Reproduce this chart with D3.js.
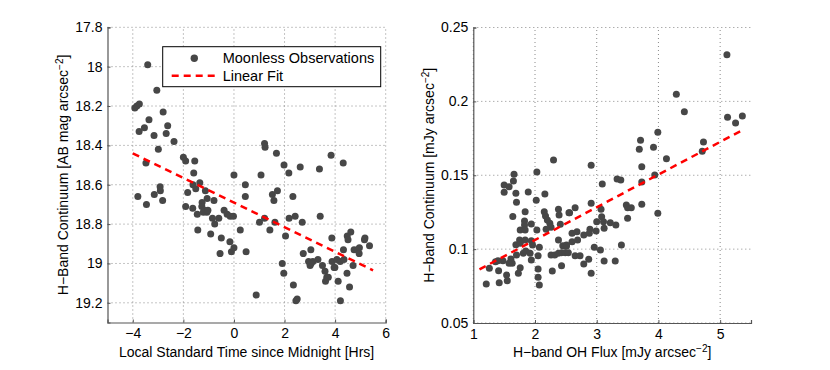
<!DOCTYPE html>
<html>
<head>
<meta charset="utf-8">
<script src="https://cdn.jsdelivr.net/npm/d3@7"></script>
<style>
  body { margin: 0; background: #fff; }
  svg { font-family: "Liberation Sans", Arial, sans-serif; }
</style>
</head>
<body>
<svg id="chart" width="830" height="370"></svg>
<script>
// Left panel: [local time (hrs), H-band continuum (AB mag/arcsec^2)]
const timeMag = [
  [-3.41, 17.99], [-3.05, 18.12], [-3.92, 18.21], [-3.84, 18.20], [-3.74, 18.19],
  [-2.80, 18.23], [-3.36, 18.27], [-3.54, 18.31], [-3.75, 18.33], [-2.62, 18.30],
  [-3.16, 18.35], [-2.68, 18.34], [-2.37, 18.38], [-2.99, 18.42], [-2.00, 18.46],
  [-1.91, 18.48], [-1.55, 18.48], [-3.48, 18.49], [-1.59, 18.54], [0.00, 18.55],
  [-3.80, 18.66], [-3.46, 18.70], [-3.15, 18.65], [-2.92, 18.61], [-2.91, 18.63],
  [-2.82, 18.68], [-1.91, 18.71], [-1.83, 18.64], [-1.62, 18.60], [-1.63, 18.72],
  [-1.35, 18.59], [-1.51, 18.62], [-1.43, 18.83], [-1.13, 18.63], [-1.45, 18.75],
  [-1.26, 18.69], [-1.27, 18.71], [-1.18, 18.73], [-1.07, 18.74], [-1.21, 18.74],
  [-1.03, 18.73], [-1.06, 18.67], [-0.79, 18.68], [-0.85, 18.77], [-0.76, 18.80],
  [-0.92, 18.85], [-0.60, 18.77], [-0.39, 18.73], [-0.27, 18.75], [-0.15, 18.76],
  [-0.02, 18.76], [-0.50, 18.87], [-0.16, 18.89], [-0.55, 18.95], [-0.10, 18.94],
  [0.00, 18.92], [0.25, 18.83], [1.21, 18.39], [1.23, 18.41], [1.68, 18.44],
  [1.98, 18.50], [2.17, 18.54], [2.62, 18.51], [3.84, 18.45], [4.32, 18.49],
  [3.38, 18.52], [1.07, 18.55], [0.45, 18.60], [0.45, 18.66], [1.52, 18.65],
  [1.72, 18.63], [1.58, 18.68], [2.33, 18.66], [2.18, 18.77], [2.42, 18.76],
  [2.70, 18.79], [3.41, 18.76], [1.01, 18.79], [1.21, 18.77], [1.62, 18.79],
  [1.42, 18.83], [2.04, 18.86], [0.48, 18.94], [2.74, 18.95], [3.04, 18.93],
  [3.87, 18.87], [4.48, 18.86], [4.51, 18.88], [4.62, 18.84], [5.18, 18.87],
  [5.16, 18.88], [5.36, 18.91], [4.75, 18.93], [4.89, 18.93], [4.96, 18.92],
  [4.95, 18.95], [4.33, 18.93], [3.32, 18.98], [2.95, 18.99], [3.12, 18.99],
  [3.01, 19.01], [3.05, 19.00], [3.50, 19.01], [3.88, 18.99], [4.07, 18.98],
  [4.20, 18.99], [4.35, 18.98], [3.96, 19.02], [3.99, 19.02], [3.60, 19.04],
  [3.67, 19.07], [3.73, 19.07], [3.62, 19.09], [4.71, 19.01], [4.47, 19.05],
  [4.12, 19.09], [4.57, 19.12], [1.91, 19.00], [1.97, 19.05], [2.35, 19.11],
  [2.50, 19.18], [2.45, 19.19], [0.88, 19.16], [4.21, 19.19]
];
const timeFit = [[-4, 18.44], [5.5, 19.035]];

// Right panel: [H-band OH flux, H-band continuum] (mJy arcsec^-2)
const fluxCont = [
  [2.30, 0.1603], [2.03, 0.1522], [1.66, 0.1506], [1.65, 0.1461], [1.50, 0.1434],
  [1.58, 0.1423], [1.50, 0.1385], [1.69, 0.1378], [1.70, 0.1317], [1.89, 0.1387],
  [2.16, 0.1373], [2.02, 0.1330], [1.64, 0.1220], [1.84, 0.1253], [1.83, 0.1190],
  [1.83, 0.1163], [1.94, 0.1170], [2.15, 0.1253], [2.17, 0.1224], [2.20, 0.1197],
  [2.24, 0.1175], [2.26, 0.1148], [2.38, 0.1270], [2.39, 0.1231], [2.41, 0.1168],
  [2.18, 0.1134], [1.76, 0.1129], [1.84, 0.1129], [2.03, 0.1129], [1.75, 0.1062],
  [1.84, 0.1062], [1.69, 0.1030], [1.76, 0.1040], [1.94, 0.1057], [1.96, 0.1028],
  [2.07, 0.1012], [2.38, 0.1062], [2.45, 0.1023], [2.49, 0.1021], [2.51, 0.1021],
  [2.26, 0.0960], [2.32, 0.0960], [2.38, 0.0972], [2.43, 0.0976], [2.49, 0.0976],
  [2.54, 0.0976], [1.70, 0.0960], [1.81, 0.0972], [1.85, 0.0987], [1.92, 0.0972],
  [2.05, 0.0956], [1.94, 0.0926], [1.61, 0.0933], [1.63, 0.0904], [1.58, 0.0904],
  [1.48, 0.0922], [1.40, 0.0922], [1.36, 0.0915], [1.26, 0.0870], [1.41, 0.0854],
  [1.76, 0.0874], [1.73, 0.0836], [1.54, 0.0825], [1.55, 0.0786], [1.42, 0.0773],
  [1.21, 0.0764], [2.05, 0.0865], [2.05, 0.0809], [2.07, 0.0757], [2.28, 0.0852],
  [2.43, 0.0888], [2.55, 0.1247], [2.91, 0.1567], [3.73, 0.1558], [3.09, 0.1441],
  [3.33, 0.1475], [3.39, 0.1468], [3.73, 0.1454], [2.91, 0.1310], [2.56, 0.1247],
  [2.65, 0.1280], [3.48, 0.1299], [3.50, 0.1280], [3.56, 0.1280], [3.73, 0.1303],
  [3.99, 0.1242], [3.07, 0.1270], [3.08, 0.1219], [3.22, 0.1179], [3.31, 0.1163],
  [3.50, 0.1209], [3.11, 0.1186], [3.12, 0.1141], [3.00, 0.1186], [2.99, 0.1123],
  [2.89, 0.1134], [2.79, 0.1096], [2.88, 0.1107], [2.60, 0.1107], [2.68, 0.1118],
  [2.60, 0.1050], [2.69, 0.1062], [2.51, 0.1028], [3.40, 0.1028], [2.96, 0.1012],
  [3.06, 0.0994], [2.65, 0.0956], [2.73, 0.0956], [3.12, 0.0920], [3.30, 0.0920],
  [2.87, 0.0931], [2.79, 0.0899], [2.91, 0.0836], [5.11, 0.2316], [4.29, 0.2048],
  [4.42, 0.1930], [5.12, 0.1892], [5.25, 0.1854], [5.36, 0.1901], [4.73, 0.1725],
  [4.71, 0.1662], [3.99, 0.1791], [3.71, 0.1737], [3.69, 0.1676], [3.92, 0.1689],
  [4.13, 0.1612], [3.94, 0.1502]
];
const fluxFit = [[1.1, 0.0863], [5.38, 0.181]];

const timeTicks = [-4, -2, 0, 2, 4, 6];
const magTicks = [17.8, 18, 18.2, 18.4, 18.6, 18.8, 19, 19.2];
const fluxTicks = [1, 2, 3, 4, 5];
const contTicks = [0.05, 0.1, 0.15, 0.2, 0.25];

const svg = d3.select("#chart");
const pointColor = "#474747";
const fitColor = "#ff0000";
const fontSize = 14;

// builds one axes panel; label parts after the main text get a "-2" superscript when sup is set
function panel(opts) {
  const { x, y, xTicks, yTicks, xFmt, yFmt, points, fit, xLabel, xSup, yLabel, yLabelX } = opts;
  const g = svg.append("g");
  const [x0, x1] = x.range();
  const [y0, y1] = y.range(); // y0 bottom, y1 top

  // dotted grid
  g.append("g").selectAll("line").data(xTicks).join("line")
    .attr("x1", d => x(d)).attr("x2", d => x(d))
    .attr("y1", y0).attr("y2", y1)
    .attr("stroke", "#8a8a8a").attr("stroke-width", 1).attr("stroke-dasharray", "1,3");
  g.append("g").selectAll("line").data(yTicks).join("line")
    .attr("x1", x0).attr("x2", x1)
    .attr("y1", d => y(d)).attr("y2", d => y(d))
    .attr("stroke", "#8a8a8a").attr("stroke-width", 1).attr("stroke-dasharray", "1,3");

  // axes
  const xAxis = g.append("g").attr("transform", `translate(0,${y0})`)
    .call(d3.axisBottom(x).tickValues(xTicks).tickFormat(xFmt).tickSize(-3).tickPadding(6));
  const yAxis = g.append("g").attr("transform", `translate(${x0},0)`)
    .call(d3.axisLeft(y).tickValues(yTicks).tickFormat(yFmt).tickSize(-3).tickPadding(5));
  [xAxis, yAxis].forEach(a => {
    a.select(".domain").attr("stroke", "#555").attr("stroke-width", 1.2);
    a.selectAll(".tick line").attr("stroke", "#555");
    a.selectAll(".tick text").attr("fill", "#000").attr("font-size", fontSize)
      .attr("font-family", "Liberation Sans, Arial, sans-serif");
  });

  // points
  g.append("g").selectAll("circle").data(points).join("circle")
    .attr("cx", d => x(d[0])).attr("cy", d => y(d[1]))
    .attr("r", 3.5).attr("fill", pointColor);

  // fit
  g.append("path").datum(fit)
    .attr("d", d3.line().x(d => x(d[0])).y(d => y(d[1])))
    .attr("fill", "none").attr("stroke", fitColor)
    .attr("stroke-width", 2.5).attr("stroke-dasharray", "7,5");

  // labels
  const xl = g.append("text").attr("x", (x0 + x1) / 2).attr("y", 357)
    .attr("text-anchor", "middle").attr("font-size", fontSize).text(xLabel);
  if (xSup) {
    xl.append("tspan").attr("font-size", 10).attr("dy", -5).text("−2");
    xl.append("tspan").attr("dy", 5).text("]");
  }

  const yl = g.append("text")
    .attr("transform", `translate(${yLabelX},${(y0 + y1) / 2}) rotate(-90)`)
    .attr("text-anchor", "middle").attr("font-size", fontSize).text(yLabel);
  yl.append("tspan").attr("font-size", 10).attr("dy", -5).text("−2");
  yl.append("tspan").attr("dy", 5).text("]");
  return g;
}

// left panel
const xL = d3.scaleLinear().domain([-5, 6]).range([107.5, 385.7]);
const yL = d3.scaleLinear().domain([19.3, 17.8]).range([322.5, 27.3]);
panel({
  x: xL, y: yL, xTicks: timeTicks, yTicks: magTicks,
  xFmt: d3.format("d"), yFmt: d => String(+d.toFixed(1)),
  points: timeMag, fit: timeFit,
  xLabel: "Local Standard Time since Midnight [Hrs]", xSup: false,
  yLabel: "H−Band Continuum [AB mag arcsec",
  yLabelX: 68
});

// right panel
const xR = d3.scaleLinear().domain([1, 5.5]).range([473.3, 751]);
const yR = d3.scaleLinear().domain([0.05, 0.25]).range([323, 27.5]);
panel({
  x: xR, y: yR, xTicks: fluxTicks, yTicks: contTicks,
  xFmt: d3.format("d"), yFmt: d => String(+d.toFixed(2)),
  points: fluxCont, fit: fluxFit,
  xLabel: "H−band OH Flux [mJy arcsec", xSup: true,
  yLabel: "H−band Continuum [mJy arcsec",
  yLabelX: 434
});

// legend
const leg = svg.append("g").attr("transform", "translate(162.7,46.7)");
leg.append("rect").attr("width", 218).attr("height", 40)
  .attr("fill", "#fff").attr("stroke", "#000").attr("stroke-width", 1);
leg.append("circle").attr("cx", 31.6).attr("cy", 11.6).attr("r", 3.7).attr("fill", pointColor);
leg.append("line").attr("x1", 9).attr("x2", 54).attr("y1", 29).attr("y2", 29)
  .attr("stroke", fitColor).attr("stroke-width", 2.5).attr("stroke-dasharray", "7,5");
leg.append("text").attr("x", 60).attr("y", 16.5).attr("font-size", 14.5).text("Moonless Observations");
leg.append("text").attr("x", 60).attr("y", 34).attr("font-size", 14.5).text("Linear Fit");
</script>
</body>
</html>
